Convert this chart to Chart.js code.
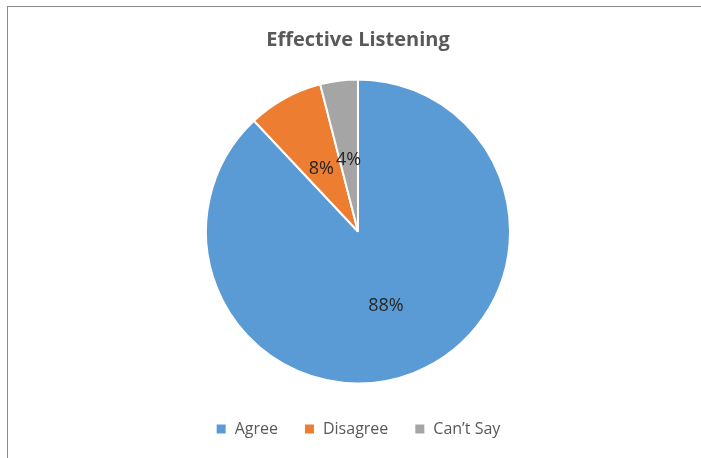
<!DOCTYPE html>
<html lang="en">
<head>
  <meta charset="UTF-8" />
  <title>Effective Listening</title>
  <script src="https://cdn.jsdelivr.net/npm/chart.js"></script>
  <style>
    body { margin: 0; background: #fff; font-family: "Open Sans", sans-serif; }
    .wrap { position: relative; width: 701px; height: 458px; overflow: hidden; }
    .frame { position: absolute; left: 7px; top: 6px; width: 720px; height: 480px;
             border-top: 1px solid #8a8a8a; border-left: 1px solid #8a8a8a; }
    canvas { position: absolute; left: 0; top: 0; }
  </style>
</head>
<body>
  <div class="wrap">
    <div class="frame"></div>
    <canvas id="pieChart" width="701" height="458"></canvas>
  </div>

  <script>
    const categories = ['Agree', 'Disagree', 'Can\u2019t Say'];
    const shares = [88, 8, 4];
    const sliceColors = ['#5B9BD5', '#ED7D31', '#A5A5A5'];

    // percentage labels inside the slices
    const sliceLabels = {
      id: 'sliceLabels',
      afterDatasetsDraw(chart) {
        const ctx = chart.ctx;
        const meta = chart.getDatasetMeta(0);
        ctx.save();
        ctx.font = '18px "Open Sans", sans-serif';
        ctx.fillStyle = '#262626';
        ctx.textAlign = 'center';
        ctx.textBaseline = 'middle';
        meta.data.forEach((arc, i) => {
          const mid = (arc.startAngle + arc.endAngle) / 2;
          const r = arc.outerRadius * 0.5;
          ctx.fillText(shares[i] + '%', arc.x + Math.cos(mid) * r, arc.y + Math.sin(mid) * r + 4);
        });
        ctx.restore();
      }
    };

    new Chart(document.getElementById('pieChart'), {
      type: 'pie',
      data: {
        labels: categories,
        datasets: [{
          data: shares,
          backgroundColor: sliceColors,
          borderColor: '#ffffff',
          borderWidth: 2
        }]
      },
      options: {
        responsive: false,
        animation: false,
        radius: 152,
        layout: { padding: { left: 15, right: 0, top: 0, bottom: 11 } },
        plugins: {
          tooltip: { enabled: false },
          title: {
            display: true,
            text: 'Effective Listening',
            color: '#595959',
            font: { family: '"Open Sans", sans-serif', size: 20, weight: 'bold' },
            padding: { top: 28, bottom: 16 }
          },
          legend: {
            position: 'bottom',
            labels: {
              boxWidth: 11,
              boxHeight: 11,
              padding: 26,
              color: '#595959',
              font: { family: '"Open Sans", sans-serif', size: 16 }
            }
          }
        }
      },
      plugins: [sliceLabels]
    });
  </script>
</body>
</html>
